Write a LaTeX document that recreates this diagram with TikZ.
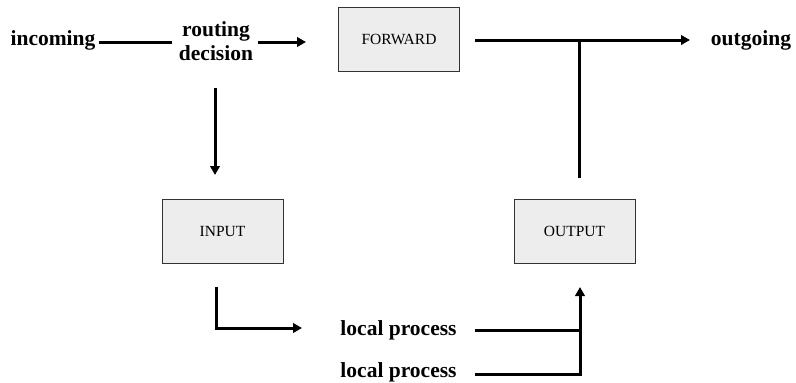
\documentclass[tikz,border=0pt]{standalone}
\usepackage{fontspec}
\setmainfont{Liberation Serif}
\usetikzlibrary{arrows.meta}
\begin{document}
\begin{tikzpicture}[x=1pt,y=-1pt,
  lbl/.style={font=\fontsize{21.5}{24}\selectfont\bfseries, inner sep=0pt, align=center},
  chain/.style={draw=black!80, fill=black!7, line width=1pt, minimum width=121pt, minimum height=64pt, font=\fontsize{15.5}{18}\selectfont, inner sep=0pt},
  flow/.style={line width=3pt},
  arr/.style={flow, -{Triangle[length=9pt,width=9.5pt]}}]
\useasboundingbox (0,0) rectangle (796,383);
% nodes
\node[lbl] (incoming) at (53,40) {incoming};
\node[lbl] (routing) at (216,41) {routing\\decision};
\node[chain] (forward) at (399,39) {FORWARD};
\node[lbl] (outgoing) at (751,40) {outgoing};
\node[chain] (input) at (222.5,231) {INPUT};
\node[chain] (output) at (574.5,231) {OUTPUT};
\node[lbl] (lp1) at (398.5,330) {local process};
\node[lbl] (lp2) at (398.5,372) {local process};
% coordinates
\coordinate (a1) at (99,42);
\coordinate (a2) at (172,42);
\coordinate (b1) at (258,42);
\coordinate (b2) at (306,42);
\coordinate (c1) at (475,40);
\coordinate (c2) at (690,40);
\coordinate (t) at (579,40);
\coordinate (t2) at (579,178);
\coordinate (d1) at (215,88);
\coordinate (d2) at (215,175);
\coordinate (e1) at (216,287);
\coordinate (e2) at (216,328);
\coordinate (e3) at (302,328);
\coordinate (f1) at (475,330);
\coordinate (f2) at (580,330);
\coordinate (g1) at (475,374);
\coordinate (g2) at (580,374);
\coordinate (g3) at (580,287);
% connectors
\draw[flow] (a1) -- (a2);
\draw[arr] (b1) -- (b2);
\draw[arr] (c1) -- (c2);
\draw[flow] (t2) -- (t);
\draw[arr] (d1) -- (d2);
\draw[arr] (e1) -- (e2) -- (e3);
\draw[flow] (f1) -- (f2);
\draw[arr] (g1) -- (g2) -- (g3);
\end{tikzpicture}
\end{document}
